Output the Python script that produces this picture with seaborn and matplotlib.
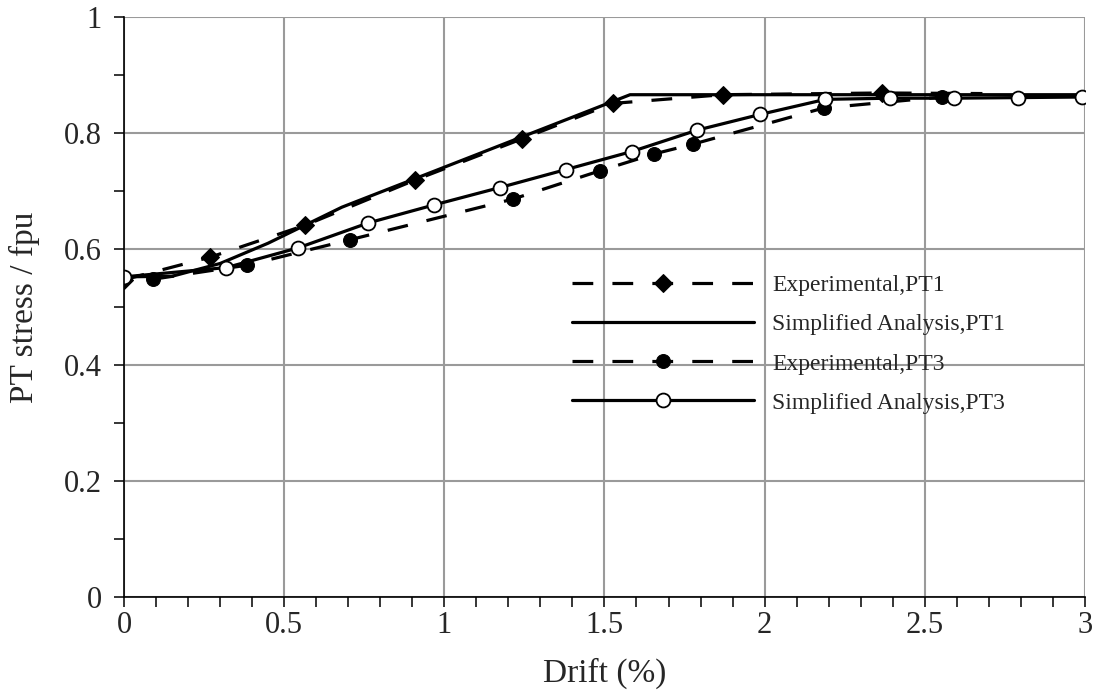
import matplotlib
matplotlib.use("Agg")
import matplotlib.pyplot as plt
from matplotlib.ticker import MultipleLocator
import seaborn as sns

# Drift (%) versus normalised post-tensioning stress
exp_pt1_drift = [0.0, 0.27, 0.566, 0.909, 1.243, 1.526, 1.87, 2.366, 2.68]
exp_pt1_stress = [0.547, 0.586, 0.641, 0.719, 0.790, 0.851, 0.866, 0.869, 0.868]

sim_pt1_drift = [0.0, 0.15, 0.30, 0.45, 0.68, 1.58, 3.0]
sim_pt1_stress = [0.552, 0.553, 0.575, 0.610, 0.672, 0.866, 0.866]

exp_pt3_drift = [0.092, 0.383, 0.706, 1.214, 1.487, 1.656, 1.778, 2.184, 2.553]
exp_pt3_stress = [0.548, 0.572, 0.616, 0.686, 0.735, 0.764, 0.781, 0.843, 0.862]

sim_pt3_drift = [0.0, 0.32, 0.544, 0.763, 0.968, 1.174, 1.38, 1.585, 1.79,
                 1.986, 2.19, 2.39, 2.59, 2.79, 2.99]
sim_pt3_stress = [0.552, 0.568, 0.602, 0.645, 0.676, 0.706, 0.737, 0.768, 0.805,
                  0.832, 0.858, 0.860, 0.860, 0.861, 0.862]

sns.set_style("white")
plt.rcParams["font.family"] = ["Liberation Serif", "DejaVu Serif"]

fig = plt.figure(figsize=(10.97, 6.96), dpi=100)
ax = fig.add_axes([0.113, 0.1422, 0.876, 0.8334])

dash = (0, (6.5, 6))
lw = 2.3

sns.lineplot(x=exp_pt1_drift, y=exp_pt1_stress, ax=ax, estimator=None, sort=False,
             color="black", linewidth=lw, linestyle=dash, marker="D", markersize=9,
             markeredgecolor="black", markerfacecolor="black",
             markevery=list(range(len(exp_pt1_drift) - 1)),
             label="Experimental,PT1")
sns.lineplot(x=sim_pt1_drift, y=sim_pt1_stress, ax=ax, estimator=None, sort=False,
             color="black", linewidth=lw, linestyle="-",
             label="Simplified Analysis,PT1")
sns.lineplot(x=exp_pt3_drift, y=exp_pt3_stress, ax=ax, estimator=None, sort=False,
             color="black", linewidth=lw, linestyle=dash, marker="o", markersize=10,
             markeredgecolor="black", markerfacecolor="black",
             label="Experimental,PT3")
sns.lineplot(x=sim_pt3_drift, y=sim_pt3_stress, ax=ax, estimator=None, sort=False,
             color="black", linewidth=lw, linestyle="-", marker="o", markersize=10,
             markeredgecolor="black", markerfacecolor="white", markeredgewidth=1.3,
             label="Simplified Analysis,PT3")

ax.set_xlim(0, 3)
ax.set_ylim(0, 1)
ax.xaxis.set_major_locator(MultipleLocator(0.5))
ax.xaxis.set_minor_locator(MultipleLocator(0.1))
ax.yaxis.set_major_locator(MultipleLocator(0.2))
ax.yaxis.set_minor_locator(MultipleLocator(0.1))
ax.set_xticklabels([f"{v:g}" for v in ax.get_xticks()])
ax.set_yticklabels([f"{v:g}" for v in ax.get_yticks()])

ax.grid(True, which="major", color="#9a9a9a", linewidth=1.5)
ax.set_axisbelow(True)
for side in ("top", "right"):
    ax.spines[side].set_visible(False)
for side in ("left", "bottom"):
    ax.spines[side].set_color("black")
    ax.spines[side].set_linewidth(1.2)

ax.tick_params(which="both", direction="out", color="black", width=1.1,
               left=True, bottom=True, labelsize=22, length=7)
ax.tick_params(axis="y", which="major", pad=9)
ax.tick_params(axis="x", which="major", pad=3)

ax.set_xlabel("Drift (%)", fontsize=24, labelpad=13)
ax.set_ylabel("PT stress / fpu", fontsize=24, labelpad=17)

ax.legend(loc="upper left", bbox_to_anchor=(0.466, 0.556), frameon=False,
          fontsize=17, handlelength=7.7, handletextpad=0.8, labelspacing=0.75,
          borderpad=0, borderaxespad=0)

fig.savefig("out.png", dpi=100)
